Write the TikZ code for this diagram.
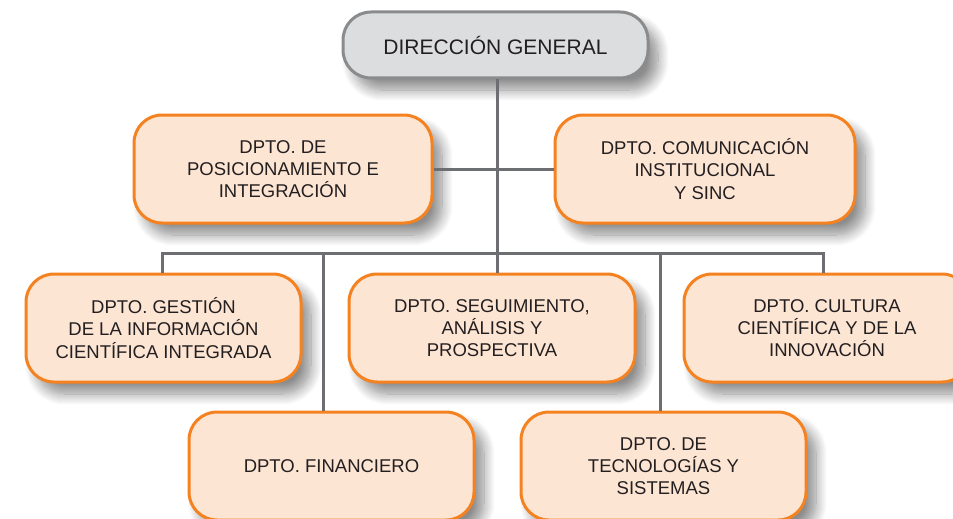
\documentclass[tikz,border=0pt]{standalone}
\usepackage{fontspec}
\setmainfont{Liberation Sans}
\usetikzlibrary{shadows.blur}
\definecolor{orgline}{HTML}{F58220}
\definecolor{orgfill}{HTML}{FDE5D4}
\definecolor{dgfill}{HTML}{DCDDDF}
\definecolor{dgline}{HTML}{8A8B8D}
\definecolor{conn}{HTML}{6D6E71}
\definecolor{txt}{HTML}{231F20}
\tikzset{
  boxshadow/.style={blur shadow={shadow xshift=10pt, shadow yshift=-12pt, shadow blur radius=11pt, shadow opacity=45, shadow blur steps=12}},
  dept/.style={draw=orgline, line width=3pt, fill=orgfill, rounded corners=28pt, minimum height=108pt, align=center, text=txt, font=\fontsize{18.5}{22.3}\selectfont, inner sep=0pt, boxshadow},
  dgbox/.style={draw=dgline, line width=3pt, fill=dgfill, rounded corners=28pt, minimum width=305pt, minimum height=66pt, text=txt, font=\fontsize{21}{25}\selectfont, inner sep=0pt, boxshadow},
  link/.style={draw=conn, line width=3pt}
}
\begin{document}
\begin{tikzpicture}[x=1pt,y=-1pt]
\useasboundingbox (0,0) rectangle (953,519);
\clip (0,0) rectangle (953,519);
\node[dgbox] (dg) at (495.5,45) {DIRECCIÓN GENERAL};
\node[dept, minimum width=298pt] (pos) at (283,169) {DPTO. DE\\POSICIONAMIENTO E\\INTEGRACIÓN};
\node[dept, minimum width=300pt] (com) at (705,169) {DPTO. COMUNICACIÓN\\INSTITUCIONAL\\Y SINC};
\node[dept, minimum width=275pt] (ges) at (163.5,328) {DPTO. GESTIÓN\\DE LA INFORMACIÓN\\CIENTÍFICA INTEGRADA};
\node[dept, minimum width=286pt] (seg) at (492,328) {DPTO. SEGUIMIENTO,\\ANÁLISIS Y\\PROSPECTIVA};
\node[dept, minimum width=286pt] (cul) at (827,328) {DPTO. CULTURA\\CIENTÍFICA Y DE LA\\INNOVACIÓN};
\node[dept, minimum width=285pt] (fin) at (331.5,466) {DPTO. FINANCIERO};
\node[dept, minimum width=285pt] (tec) at (663.5,466) {DPTO. DE\\TECNOLOGÍAS Y\\SISTEMAS};
\coordinate (bus) at (497,253);
\coordinate (bg) at (162,253);
\coordinate (bc) at (823,253);
\coordinate (bf) at (323,253);
\coordinate (bt) at (660,253);
\draw[link] (dg.south -| bus) -- (seg.north -| bus);
\draw[link] (pos.east) -- (com.west);
\draw[link] (bg |- ges.north) -- (bg) -- (bc) -- (bc |- cul.north);
\draw[link] (bf) -- (bf |- fin.north);
\draw[link] (bt) -- (bt |- tec.north);
\end{tikzpicture}
\end{document}
